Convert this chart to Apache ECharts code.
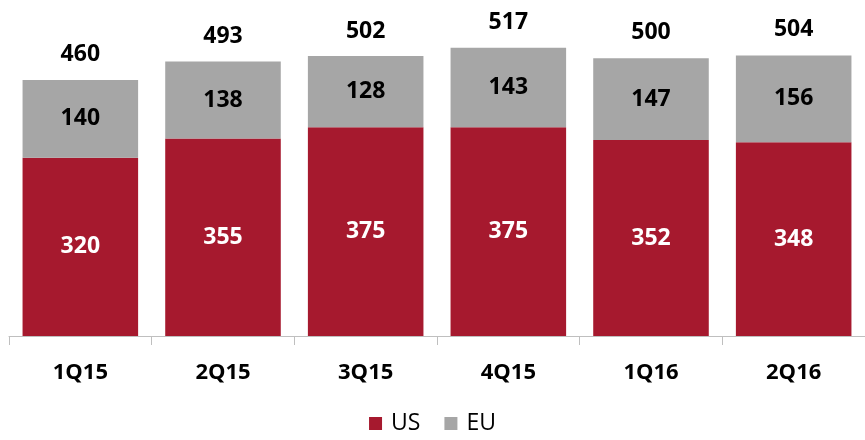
<!DOCTYPE html>
<html>
<head>
<meta charset="utf-8">
<script src="https://cdn.jsdelivr.net/npm/echarts@6/dist/echarts.min.js"></script>
<style>html,body{margin:0;padding:0;background:#fff}#c{width:865px;height:440px}</style>
</head>
<body>
<div id="c"></div>
<script>
const categories = ['1Q15', '2Q15', '3Q15', '4Q15', '1Q16', '2Q16'];
const usValues = [320, 355, 375, 375, 352, 348];
const euValues = [140, 138, 128, 143, 147, 156];
const totals = [460, 493, 502, 517, 500, 504];

const FONT = '"Open Sans", "Liberation Sans", sans-serif';
const chart = echarts.init(document.getElementById('c'));
chart.setOption({
  animation: false,
  grid: { left: 9, width: 860, top: 2, height: 334 },
  legend: {
    bottom: 0,
    left: 'center',
    itemWidth: 13,
    itemHeight: 13,
    itemGap: 24,
    icon: 'rect',
    data: ['US', 'EU'],
    textStyle: { fontFamily: FONT, fontSize: 23, color: '#000', padding: [0, 0, 0, 4] }
  },
  xAxis: {
    type: 'category',
    data: categories,
    axisLine: { lineStyle: { color: '#BFBFBF', width: 1 } },
    axisTick: { show: true, length: 9, lineStyle: { color: '#BFBFBF' } },
    axisLabel: { fontFamily: FONT, fontSize: 22, fontWeight: 'bold', color: '#000', margin: 26 }
  },
  yAxis: { type: 'value', min: 0, max: 600, show: false, splitLine: { show: false } },
  series: [
    {
      name: 'US', type: 'bar', stack: 'a', data: usValues, barCategoryGap: '19%',
      itemStyle: { color: '#A6192E' },
      label: { show: true, position: 'inside', fontFamily: FONT, fontSize: 23, fontWeight: 'bold', color: '#fff' }
    },
    {
      name: 'EU', type: 'bar', stack: 'a', data: euValues,
      itemStyle: { color: '#A6A6A6' },
      label: { show: true, position: 'inside', fontFamily: FONT, fontSize: 23, fontWeight: 'bold', color: '#000' }
    },
    {
      name: 'Total', type: 'bar', data: totals, barGap: '-100%', z: 0, silent: true,
      itemStyle: { color: 'rgba(0,0,0,0)' },
      label: { show: true, position: 'top', distance: 14, fontFamily: FONT, fontSize: 23, fontWeight: 'bold', color: '#000' }
    }
  ]
});
</script>
</body>
</html>
